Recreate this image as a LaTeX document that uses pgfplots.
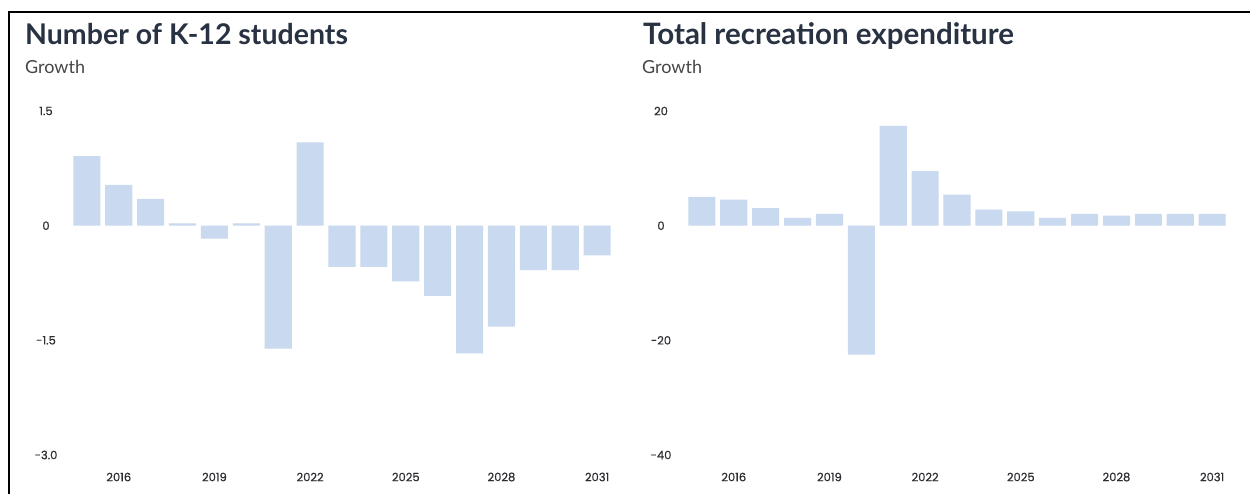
\documentclass[border=0pt]{standalone}
\usepackage{fontspec}
\setmainfont{Lato}
\newfontfamily\tickfont{Poppins}[FakeBold=0.6]
\usepackage{pgfplots}
\pgfplotsset{compat=1.18}
\definecolor{barblue}{RGB}{200,217,240}
\definecolor{titlecol}{RGB}{40,50,66}
\definecolor{subcol}{RGB}{70,70,70}
\definecolor{tickcol}{RGB}{45,45,50}
\pgfplotsset{panel/.style={
  scale only axis, width=560pt, height=344pt,
  anchor=south west,
  xmin=2014.22, xmax=2031.78,
  axis line style={draw=none},
  major tick length=0pt,
  xtick={2016,2019,2022,2025,2028,2031},
  xticklabels={2016,2019,2022,2025,2028,2031},
  xticklabel style={font=\tickfont\fontsize{11.5}{13}\selectfont, text=tickcol, anchor=center, yshift=-22pt, inner sep=0pt},
  yticklabel style={font=\tickfont\fontsize{11.5}{13}\selectfont, text=tickcol, anchor=center, xshift=-16pt, inner sep=0pt},
  ybar, bar width=0.85, bar shift=0pt,
  clip=false,
}}
\begin{document}
\begin{tikzpicture}[x=1pt,y=1pt]
\useasboundingbox (0,0) rectangle (1250,494);
\fill[white] (0,0) rectangle (1250,494);
\draw[line width=2pt, black] (9,0) -- (9,482) -- (1250,482);
\node[anchor=base west, inner sep=0pt, font=\bfseries\fontsize{28.5}{32}\selectfont, text=titlecol] at (25,449) {Number of K-12 students};
\node[anchor=base west, inner sep=0pt, font=\fontsize{18}{21}\selectfont, text=subcol] at (25,420) {Growth};
\node[anchor=base west, inner sep=0pt, font=\bfseries\fontsize{29.5}{32}\selectfont, text=titlecol] at (643,449) {Total recreation expenditure};
\node[anchor=base west, inner sep=0pt, font=\fontsize{18}{21}\selectfont, text=subcol] at (642,420) {Growth};
\begin{axis}[panel, at={(62pt,39pt)},
  ymin=-3, ymax=1.5,
  ytick={-3,-1.5,0,1.5}, yticklabels={-3.0,-1.5,0,1.5}]
\addplot[fill=barblue, draw=none] coordinates {
(2015,0.91) (2016,0.535) (2017,0.35) (2018,0.03) (2019,-0.17) (2020,0.03)
(2021,-1.61) (2022,1.09) (2023,-0.54) (2024,-0.54) (2025,-0.73) (2026,-0.92)
(2027,-1.67) (2028,-1.32) (2029,-0.58) (2030,-0.58) (2031,-0.39)};
\end{axis}
\begin{axis}[panel, at={(677pt,39pt)},
  ymin=-40, ymax=20,
  ytick={-40,-20,0,20}, yticklabels={-40,-20,0,20}]
\addplot[fill=barblue, draw=none] coordinates {
(2015,5.0) (2016,4.56) (2017,3.04) (2018,1.35) (2019,2.05) (2020,-22.5)
(2021,17.4) (2022,9.5) (2023,5.4) (2024,2.8) (2025,2.5) (2026,1.35)
(2027,2.05) (2028,1.75) (2029,2.05) (2030,2.05) (2031,2.05)};
\end{axis}
\end{tikzpicture}
\end{document}
